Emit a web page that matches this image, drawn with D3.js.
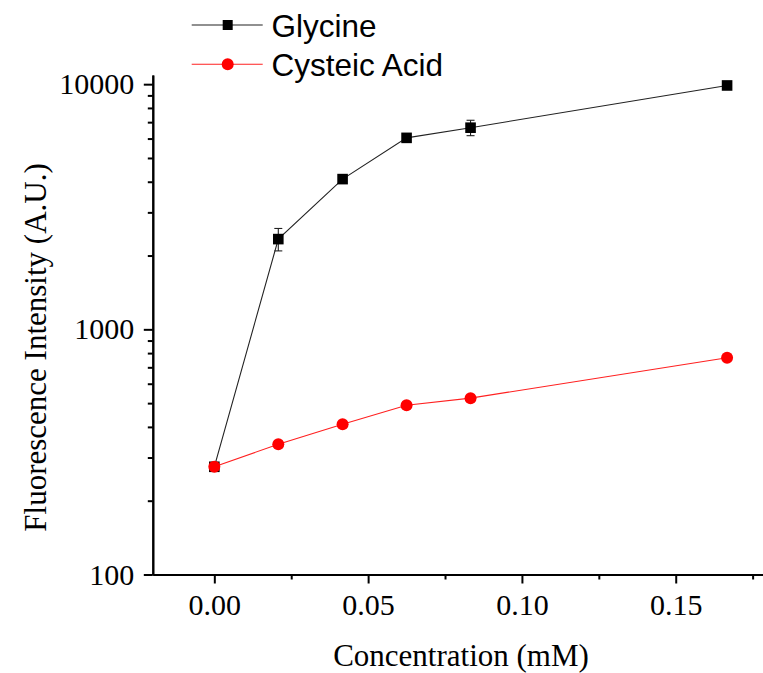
<!DOCTYPE html>
<html>
<head>
<meta charset="utf-8">
<script src="https://cdn.jsdelivr.net/npm/d3@7"></script>
<style>
  html, body { margin: 0; padding: 0; background: #fff; }
  svg { display: block; }
</style>
</head>
<body>
<script>
// Concentration series (mM) and measured fluorescence
const concentrations = [0, 0.0208, 0.0417, 0.0625, 0.0833, 0.1667];
const glycine        = [275, 2334, 4100, 6040, 6645, 9880];
const glycineErr     = [0, 245, 0, 200, 480, 0];
const cysteicAcid    = [275, 340, 410, 490, 524, 766];

const seriesNames = ["Glycine", "Cysteic Acid"];
const xTickValues = [0, 0.05, 0.10, 0.15];
const xMinorValues = [0.025, 0.075, 0.125, 0.175];
const yTickValues = [100, 1000, 10000];
const yMinorValues = [2, 3, 4, 5, 6, 7, 8, 9]
  .flatMap(m => [100, 1000].map(d => m * d));

const W = 763, H = 673;
const serif = "'Liberation Serif', 'Times New Roman', serif";
const sans = "'Liberation Sans', Arial, sans-serif";

const svg = d3.select("body").append("svg")
  .attr("width", W).attr("height", H)
  .attr("viewBox", `0 0 ${W} ${H}`);

const x = d3.scaleLinear().domain([-0.02, 0.18]).range([152.8, 768]);
const y = d3.scaleLog().domain([100, 10900]).range([574.5, 75]);

// minor ticks
const gxm = svg.append("g").attr("transform", `translate(0,${y.range()[0]})`)
  .call(d3.axisBottom(x).tickValues(xMinorValues).tickSize(5).tickSizeOuter(0).tickFormat(""));
const gym = svg.append("g").attr("transform", `translate(${x.range()[0]},0)`)
  .call(d3.axisLeft(y).tickValues(yMinorValues).tickSize(5).tickSizeOuter(0).tickFormat(""));

// major axes
const gx = svg.append("g").attr("transform", `translate(0,${y.range()[0]})`)
  .call(d3.axisBottom(x).tickValues(xTickValues).tickSize(9).tickSizeOuter(0)
    .tickPadding(10).tickFormat(d3.format(".2f")));
const gy = svg.append("g").attr("transform", `translate(${x.range()[0]},0)`)
  .call(d3.axisLeft(y).tickValues(yTickValues).tickSize(9).tickSizeOuter(0)
    .tickPadding(9.5).tickFormat(d3.format("d")));

[gxm, gym, gx, gy].forEach(g => {
  g.selectAll("path.domain").attr("stroke", "#000").attr("stroke-width", 2);
  g.selectAll(".tick line").attr("stroke", "#000").attr("stroke-width", 2);
  g.selectAll(".tick text").attr("fill", "#000")
    .style("font-family", serif).style("font-size", "30px");
});

// axis titles
svg.append("text")
  .attr("x", 461).attr("y", 666)
  .attr("text-anchor", "middle")
  .style("font-family", serif).style("font-size", "31px")
  .text("Concentration (mM)");
svg.append("text")
  .attr("transform", "translate(46,347.5) rotate(-90)")
  .attr("text-anchor", "middle")
  .style("font-family", serif).style("font-size", "31px")
  .text("Fluorescence Intensity (A.U.)");

const line = d3.line().x(d => x(d[0])).y(d => y(d[1]));
const gly = concentrations.map((c, i) => [c, glycine[i], glycineErr[i]]);
const cys = concentrations.map((c, i) => [c, cysteicAcid[i]]);

// Glycine: line, error bars, square markers
svg.append("path").datum(gly).attr("d", line)
  .attr("fill", "none").attr("stroke", "#222").attr("stroke-width", 1.1);

const eb = svg.append("g").attr("stroke", "#222").attr("stroke-width", 1.1);
gly.filter(d => d[2] > 0).forEach(d => {
  const cx = x(d[0]), y1 = y(d[1] + d[2]), y2 = y(d[1] - d[2]);
  eb.append("line").attr("x1", cx).attr("x2", cx).attr("y1", y1).attr("y2", y2);
  eb.append("line").attr("x1", cx - 4).attr("x2", cx + 4).attr("y1", y1).attr("y2", y1);
  eb.append("line").attr("x1", cx - 4).attr("x2", cx + 4).attr("y1", y2).attr("y2", y2);
});

svg.append("g").selectAll("rect").data(gly).join("rect")
  .attr("x", d => x(d[0]) - 5.3).attr("y", d => y(d[1]) - 5.3)
  .attr("width", 10.6).attr("height", 10.6).attr("fill", "#000");

// Cysteic acid: line and circle markers
svg.append("path").datum(cys).attr("d", line)
  .attr("fill", "none").attr("stroke", "#ff2020").attr("stroke-width", 1.1);
svg.append("g").selectAll("circle").data(cys).join("circle")
  .attr("cx", d => x(d[0])).attr("cy", d => y(d[1]))
  .attr("r", 6).attr("fill", "#ff0000");

// legend
const legend = svg.append("g");
const legY = [25, 64.3];
legend.append("line").attr("x1", 191.7).attr("x2", 262.7)
  .attr("y1", legY[0]).attr("y2", legY[0]).attr("stroke", "#222").attr("stroke-width", 1.1);
legend.append("rect").attr("x", 227.7 - 5).attr("y", legY[0] - 5)
  .attr("width", 10).attr("height", 10).attr("fill", "#000");
legend.append("line").attr("x1", 191.7).attr("x2", 262.7)
  .attr("y1", legY[1]).attr("y2", legY[1]).attr("stroke", "#ff2020").attr("stroke-width", 1.1);
legend.append("circle").attr("cx", 227.7).attr("cy", legY[1]).attr("r", 6).attr("fill", "#ff0000");
seriesNames.forEach((n, i) => {
  legend.append("text").attr("x", 271.5).attr("y", legY[i] + 11.5)
    .style("font-family", sans).style("font-size", "31.5px").attr("fill", "#000")
    .text(n);
});
</script>
</body>
</html>
